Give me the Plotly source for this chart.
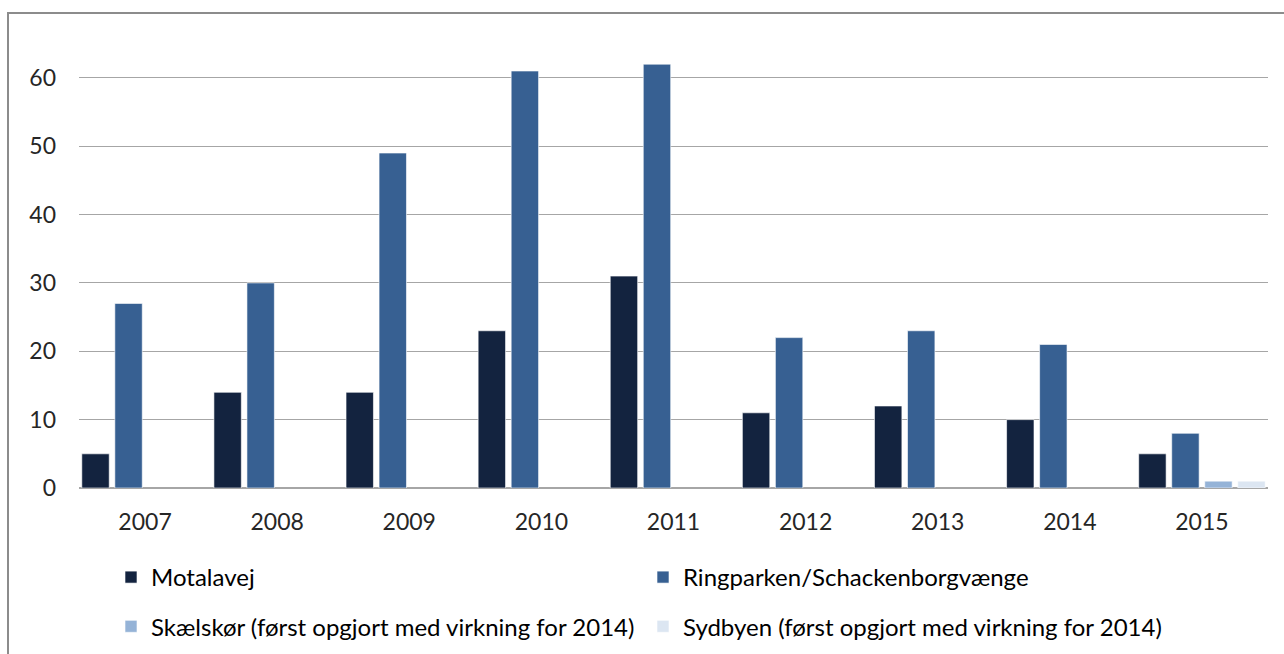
import plotly.graph_objects as go

years = ["2007", "2008", "2009", "2010", "2011", "2012", "2013", "2014", "2015"]
motalavej = [5, 14, 14, 23, 31, 11, 12, 10, 5]
ringparken = [27, 30, 49, 61, 62, 22, 23, 21, 8]
skaelskoer = [None, None, None, None, None, None, None, None, 1]
sydbyen = [None, None, None, None, None, None, None, None, 1]

series_names = [
    "Motalavej",
    "Ringparken/Schackenborgvænge",
    "Skælskør (først opgjort med virkning for 2014)",
    "Sydbyen (først opgjort med virkning for 2014)",
]
series_values = [motalavej, ringparken, skaelskoer, sydbyen]
colors = ["#13233f", "#376092", "#95b3d7", "#dce6f2"]
legend_ids = ["legend", "legend2", "legend", "legend2"]
y_ticks = [0, 10, 20, 30, 40, 50, 60]

W, H = 1284, 654
ml, mr, mt, mb = 79, 16, 30, 166
pw, ph = W - ml - mr, H - mt - mb

fig = go.Figure()
for i, (name, vals, col, lg) in enumerate(zip(series_names, series_values, colors, legend_ids)):
    fig.add_trace(go.Bar(
        x=years, y=vals, name=name, legend=lg, legendgroup="g%d" % i,
        marker=dict(color=col, line=dict(color="rgba(255,255,255,0.6)", width=1)),
    ))

font_family = "Lato, 'Noto Sans', sans-serif"

def px_x(x):
    return (x - ml) / pw

def px_y(y):
    return (H - mb - y) / ph

legend_common = dict(
    orientation="v", xanchor="left", yanchor="top",
    font=dict(size=24, color="#000000", family=font_family),
    traceorder="grouped", tracegroupgap=15, bgcolor="rgba(0,0,0,0)",
)

fig.update_layout(
    width=W, height=H,
    margin=dict(l=ml, r=mr, t=mt, b=mb, autoexpand=False),
    paper_bgcolor="white", plot_bgcolor="white",
    barmode="group", bargap=0.0, bargroupgap=0.17,
    font=dict(family=font_family, size=23, color="#262626"),
    showlegend=True,
    legend=dict(x=px_x(111), y=px_y(555), **legend_common),
    legend2=dict(x=px_x(643), y=px_y(555), **legend_common),
    xaxis=dict(
        showgrid=False, showline=False, ticks="",
        tickfont=dict(size=23, color="#262626"),
        ticklabelstandoff=18,
    ),
    yaxis=dict(
        range=[0, 67], tickvals=y_ticks,
        showgrid=True, gridcolor="#a6a6a6", gridwidth=1,
        zeroline=True, zerolinecolor="#a6a6a6", zerolinewidth=1.5,
        showline=False, ticks="",
        tickfont=dict(size=23, color="#262626"),
        ticklabelstandoff=22,
    ),
)

# outer chart frame (partially cropped in the reference)
fig.add_shape(
    type="rect", xref="paper", yref="paper",
    x0=px_x(8), x1=px_x(W + 20),
    y0=px_y(H + 20), y1=px_y(13),
    line=dict(color="#8c8c8c", width=2), fillcolor="rgba(0,0,0,0)", layer="below",
)

fig.write_html(
    "out.html",
    config={"displayModeBar": False},
    post_script="document.body.style.margin='0';document.body.style.overflow='hidden';",
)
